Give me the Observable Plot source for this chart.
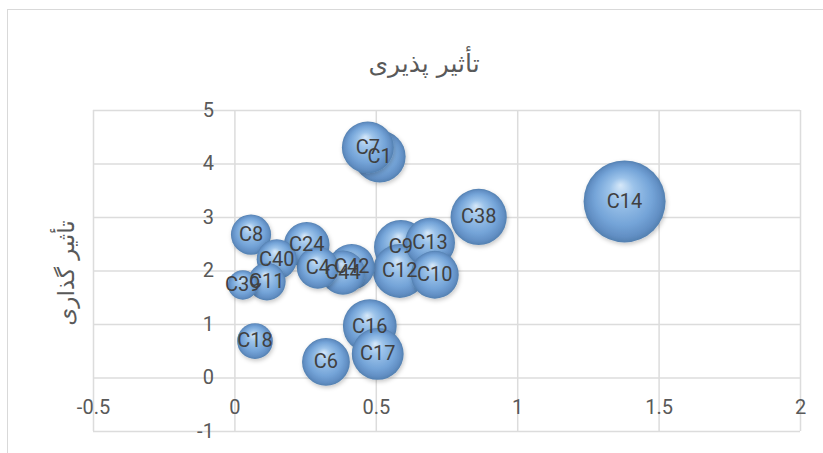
<!DOCTYPE html>
<html>
<head>
<meta charset="utf-8">
<script src="https://cdn.jsdelivr.net/npm/d3@7"></script>
<script src="https://cdn.jsdelivr.net/npm/@observablehq/plot@0.6"></script>
<style>
  html, body { margin: 0; padding: 0; background: #fff; }
  #wrap { position: relative; width: 823px; height: 453px; overflow: hidden; }
  #border { position: absolute; left: 7px; top: 9px; right: -10px; bottom: -10px;
            border-left: 1.5px solid #d9d9d9; border-top: 1.5px solid #d9d9d9; pointer-events: none; }
</style>
</head>
<body>
<div id="wrap"><div id="border"></div></div>
<script>
const names = ["C1","C7","C14","C38","C8","C24","C40","C11","C39","C4","C42","C44","C9","C13","C12","C10","C18","C6","C16","C17"];
const xValues = [0.512,0.470,1.378,0.862,0.057,0.254,0.148,0.113,0.028,0.293,0.413,0.382,0.587,0.690,0.583,0.707,0.071,0.322,0.477,0.505];
const yValues = [4.14,4.31,3.30,3.01,2.68,2.49,2.22,1.80,1.74,2.06,2.08,1.97,2.45,2.53,2.00,1.93,0.69,0.30,0.97,0.45];
const sizes   = [40,40,100,47,24,31,24,21,13,26,31,29,43,37,43,34,19,34,43,40];
const xTicks = [-0.5,0,0.5,1,1.5,2];
const xTickLabels = ["-0.5","0","0.5","1","1.5","2"];
const yTicks = [-1,0,1,2,3,4,5];
const yTickLabels = ["-1","0","1","2","3","4","5"];
const chartTitle = "تأثیر پذیری";
const yTitle = "تأثیر گذاری";

const data = names.map((n, i) => ({name: n, x: xValues[i], y: yValues[i], s: sizes[i]}));
const xt = xTicks.map((v, i) => ({v, label: xTickLabels[i]}));
const yt = yTicks.map((v, i) => ({v, label: yTickLabels[i]}));

const grid = "#dcdcdc";
const chart = Plot.plot({
  width: 823,
  height: 453,
  marginLeft: 93,
  marginRight: 23,
  marginTop: 110,
  marginBottom: 22,
  style: {background: "transparent", fontFamily: "Roboto, sans-serif"},
  x: {domain: [-0.5, 2], axis: null},
  y: {domain: [-1, 5], axis: null},
  r: {type: "sqrt", domain: [0, 100], range: [0, 41]},
  marks: [
    Plot.ruleX(xTicks, {stroke: grid, strokeWidth: 1.5}),
    Plot.ruleY(yTicks, {stroke: grid, strokeWidth: 1.5}),
    Plot.text(yt, {x: () => 0, y: "v", text: "label", textAnchor: "end", dx: -21, fill: "#595959", fontSize: 20}),
    Plot.text(xt, {x: "v", y: () => 0, text: "label", dy: 30, fill: "#595959", fontSize: 20}),
    Plot.dot(data, {x: "x", y: "y", r: "s", fill: "url(#bubGrad)", stroke: "none"}),
    Plot.text(data, {x: "x", y: "y", text: "name", fill: "#404040", fontSize: 20}),
    Plot.text([chartTitle], {frameAnchor: "top", dx: -23, dy: -56, text: d => d, fill: "#595959", fontSize: 25, fontFamily: "DejaVu Sans"}),
    Plot.text([yTitle], {frameAnchor: "left", dx: -27, dy: 2, rotate: -90, text: d => d, fill: "#595959", fontSize: 23, fontFamily: "DejaVu Sans", textAnchor: "middle"})
  ]
});

const ns = "http://www.w3.org/2000/svg";
const defs = document.createElementNS(ns, "defs");
defs.innerHTML = `
  <radialGradient id="bubGrad" cx="0.5" cy="0.5" r="0.5" fx="0.45" fy="0.3">
    <stop offset="0" stop-color="#d6e8f9"/>
    <stop offset="0.3" stop-color="#9cc3ea"/>
    <stop offset="0.7" stop-color="#74a4d8"/>
    <stop offset="0.9" stop-color="#628fc4"/>
    <stop offset="1" stop-color="#5380b0"/>
  </radialGradient>
  <filter id="bubShadow" x="-30%" y="-30%" width="160%" height="160%">
    <feDropShadow dx="1" dy="2" stdDeviation="2" flood-color="#000" flood-opacity="0.22"/>
  </filter>`;
chart.insertBefore(defs, chart.firstChild);
chart.querySelectorAll("circle").forEach(c => c.setAttribute("filter", "url(#bubShadow)"));
document.getElementById("wrap").appendChild(chart);
chart.style.position = "absolute";
chart.style.left = "0";
chart.style.top = "0";
</script>
</body>
</html>
